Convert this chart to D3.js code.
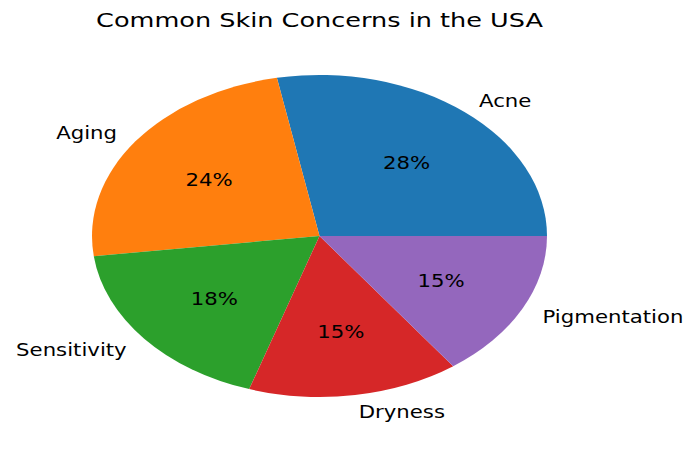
<!DOCTYPE html>
<html>
<head>
<meta charset="utf-8">
<script src="https://cdn.jsdelivr.net/npm/d3@7"></script>
<style>
  html, body { margin: 0; padding: 0; background: #fff; }
  svg { display: block; }
  text { font-family: "DejaVu Sans", sans-serif; fill: #000; }
</style>
</head>
<body>
<svg id="chart" width="700" height="450"></svg>
<script>
const categories = ["Acne", "Aging", "Sensitivity", "Dryness", "Pigmentation"];
const values = [28, 24, 18, 15, 15];
const colors = ["#1f77b4", "#ff7f0e", "#2ca02c", "#d62728", "#9467bd"];
const titleText = "Common Skin Concerns in the USA";

const W = 700, H = 450;
const cx = 319.5, cy = 236;
const rx = 227.5, ry = 161;
const labelSize = 16.8, titleSize = 20.2, textSX = 1.265;

const svg = d3.select("#chart");
const total = d3.sum(values);

const pie = d3.pie()
  .sort(null)
  .value(d => d)
  .startAngle(Math.PI / 2)
  .endAngle(Math.PI / 2 - 2 * Math.PI);

const arcs = pie(values);
const arc = d3.arc().innerRadius(0).outerRadius(ry);
const color = d3.scaleOrdinal().domain(categories).range(colors);

const g = svg.append("g")
  .attr("transform", `translate(${cx},${cy}) scale(${rx / ry},1)`);

g.selectAll("path")
  .data(arcs)
  .join("path")
  .attr("d", arc)
  .attr("fill", (d, i) => color(categories[i]));

function pos(d, f) {
  const m = (d.startAngle + d.endAngle) / 2;
  return [cx + f * rx * Math.sin(m), cy - f * ry * Math.cos(m)];
}

const fmt = d3.format(".0f");

// category labels
svg.selectAll("text.lab")
  .data(arcs)
  .join("text")
  .attr("class", "lab")
  .attr("font-size", labelSize)
  .attr("text-anchor", d => pos(d, 1.1)[0] > cx ? "start" : "end")
  .attr("transform", d => {
    const [x, y] = pos(d, 1.1);
    return `translate(${x},${y + 0.42 * labelSize}) scale(${textSX},1)`;
  })
  .text((d, i) => categories[i]);

// percentage labels
svg.selectAll("text.pct")
  .data(arcs)
  .join("text")
  .attr("class", "pct")
  .attr("font-size", labelSize)
  .attr("text-anchor", "middle")
  .attr("transform", d => {
    const [x, y] = pos(d, 0.6);
    return `translate(${x},${y + 0.42 * labelSize}) scale(${textSX},1)`;
  })
  .text(d => fmt(d.value / total * 100) + "%");

// title
svg.append("text")
  .attr("font-size", titleSize)
  .attr("text-anchor", "middle")
  .attr("transform", `translate(${cx},27) scale(${textSX},1)`)
  .text(titleText);
</script>
</body>
</html>
